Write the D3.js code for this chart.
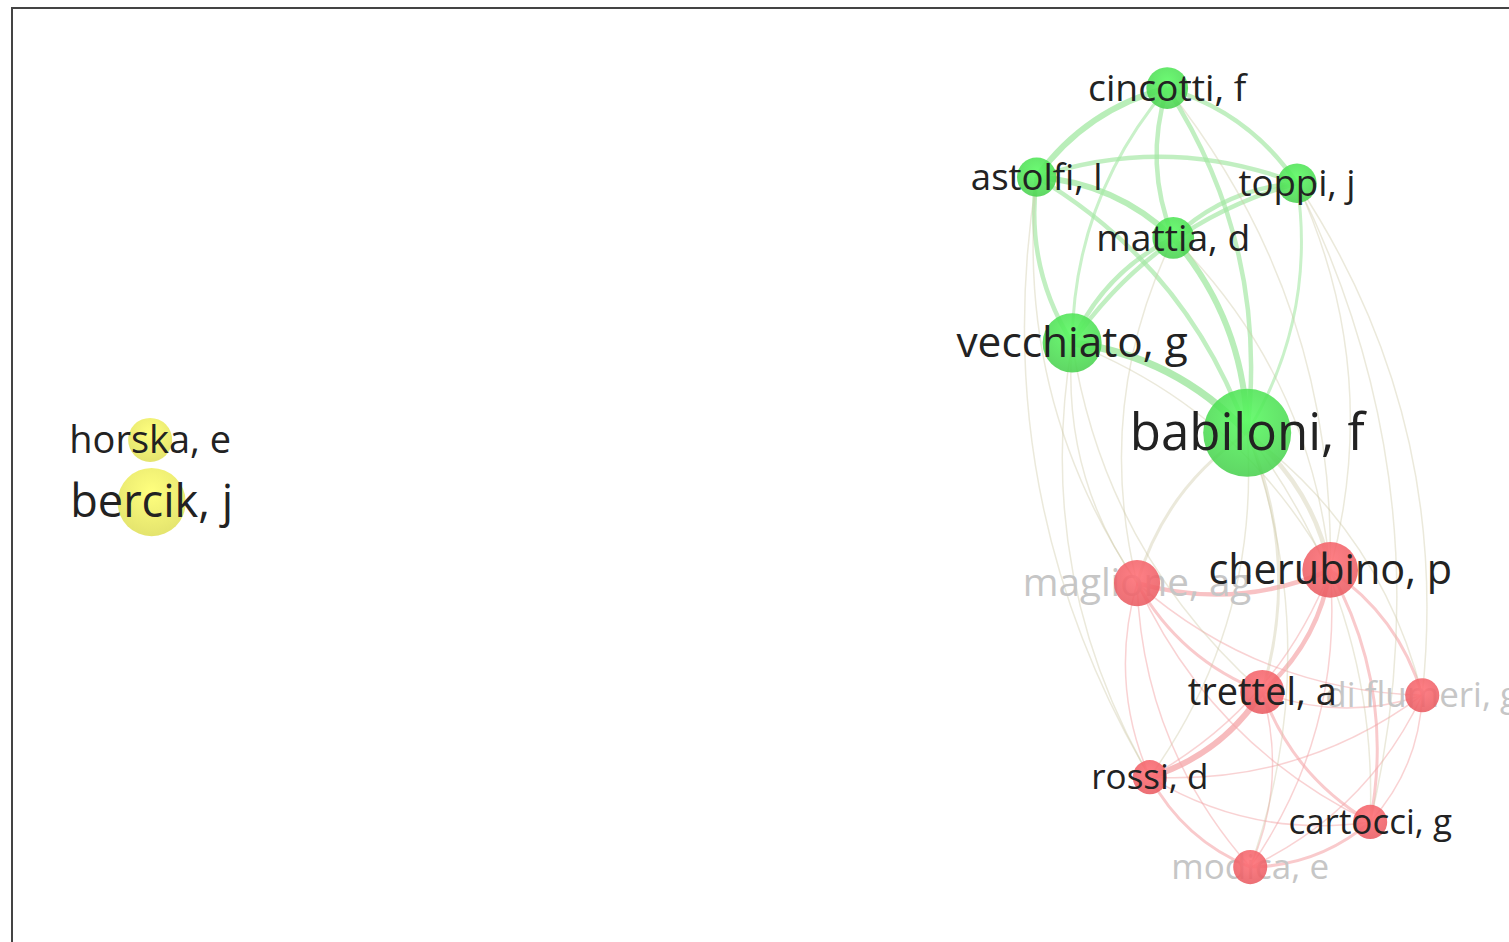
<!DOCTYPE html>
<meta charset="utf-8">
<script src="https://d3js.org/d3.v7.min.js"></script>
<style>
  body { margin: 0; background: #fff; }
  text { font-family: "Open Sans", sans-serif; }
</style>
<div id="my_dataviz"></div>
<script>
// layout of the map (normalised coordinates, -1..1)
var names   = ["cincotti, f", "astolfi, l", "toppi, j", "mattia, d", "vecchiato, g", "babiloni, f",
               "maglione, ag", "cherubino, p", "trettel, a", "di flumeri, g", "rossi, d", "cartocci, g", "modica, e",
               "horska, e", "bercik, j"];
var layoutX = [0.547, 0.374, 0.719, 0.555, 0.421, 0.653,
               0.507, 0.763, 0.673, 0.885, 0.524, 0.816, 0.657,
               -0.801, -0.799];
var layoutY = [-0.813, -0.624, -0.611, -0.495, -0.272, -0.081,
               0.238, 0.210, 0.469, 0.476, 0.650, 0.745, 0.841,
               -0.066, 0.066];
var weights = [4.5, 4, 4, 4.5, 9, 20,
               5.5, 8, 5, 3, 3, 3, 3,
               5, 12];
var clusters = [2, 2, 2, 2, 2, 2,
                1, 1, 1, 1, 1, 1, 1,
                3, 3];
var faded = ["maglione, ag", "di flumeri, g", "modica, e"];

// co-authorship links: [source, target, strength]
var links = [
  ["cincotti, f", "astolfi, l", 4], ["cincotti, f", "mattia, d", 3], ["cincotti, f", "toppi, j", 3],
  ["cincotti, f", "vecchiato, g", 2], ["cincotti, f", "babiloni, f", 3], ["astolfi, l", "mattia, d", 4],
  ["astolfi, l", "toppi, j", 3], ["astolfi, l", "vecchiato, g", 3], ["astolfi, l", "babiloni, f", 3],
  ["toppi, j", "mattia, d", 3], ["toppi, j", "vecchiato, g", 3], ["toppi, j", "babiloni, f", 2],
  ["mattia, d", "vecchiato, g", 3], ["mattia, d", "babiloni, f", 4], ["vecchiato, g", "babiloni, f", 5],
  ["maglione, ag", "cherubino, p", 3], ["maglione, ag", "trettel, a", 2], ["maglione, ag", "rossi, d", 1],
  ["maglione, ag", "modica, e", 1], ["maglione, ag", "cartocci, g", 1], ["maglione, ag", "di flumeri, g", 1],
  ["cherubino, p", "trettel, a", 3], ["cherubino, p", "di flumeri, g", 2], ["cherubino, p", "cartocci, g", 2],
  ["cherubino, p", "rossi, d", 1], ["cherubino, p", "modica, e", 1], ["trettel, a", "rossi, d", 4],
  ["trettel, a", "di flumeri, g", 1], ["trettel, a", "cartocci, g", 2], ["trettel, a", "modica, e", 1],
  ["di flumeri, g", "rossi, d", 1], ["di flumeri, g", "cartocci, g", 1], ["di flumeri, g", "modica, e", 1],
  ["rossi, d", "cartocci, g", 1], ["rossi, d", "modica, e", 2], ["cartocci, g", "modica, e", 2],
  ["babiloni, f", "maglione, ag", 2], ["babiloni, f", "cherubino, p", 3], ["babiloni, f", "trettel, a", 2],
  ["babiloni, f", "cartocci, g", 1], ["babiloni, f", "di flumeri, g", 1], ["babiloni, f", "modica, e", 1],
  ["babiloni, f", "rossi, d", 1], ["vecchiato, g", "maglione, ag", 1], ["vecchiato, g", "cherubino, p", 1],
  ["vecchiato, g", "trettel, a", 1], ["astolfi, l", "maglione, ag", 1], ["toppi, j", "cherubino, p", 1],
  ["toppi, j", "di flumeri, g", 1], ["cincotti, f", "cherubino, p", 1], ["mattia, d", "cherubino, p", 1],
  ["mattia, d", "maglione, ag", 1], ["astolfi, l", "rossi, d", 1], ["vecchiato, g", "rossi, d", 1],
  ["toppi, j", "cartocci, g", 1]
];

var width = 1509, height = 942;

var svg = d3.select("#my_dataviz")
  .append("svg")
    .attr("width", width)
    .attr("height", height);

// frame
svg.append("rect")
  .attr("x", 12).attr("y", 8)
  .attr("width", width + 10).attr("height", height + 10)
  .style("fill", "none").style("stroke", "#444").style("stroke-width", 2);

var x = d3.scaleLinear().domain([-1, 1]).range([0, width]);
var y = d3.scaleLinear().domain([-1, 1]).range([0, height]);
var r = d3.scaleSqrt().domain([0, 20]).range([0, 44]);
var fs = d3.scaleSqrt().domain([3, 20]).range([35, 51]);
var lw = d3.scaleLinear().domain([1, 5]).range([1.5, 7.5]);
var lo = d3.scaleLinear().domain([1, 5]).range([0.5, 0.85]);

var color = d3.scaleOrdinal()
  .domain([1, 2, 3])
  .range(["#e95c62", "#4ad150", "#e0e05a"]);
var edgeColor = d3.scaleOrdinal()
  .domain([1, 2, 3])
  .range(["#f4a5a8", "#a3e8a3", "#e6e67a"]);

var nodes = names.map(function (n, i) {
  return {name: n, x: x(layoutX[i]), y: y(layoutY[i]), w: weights[i], c: clusters[i],
          faded: faded.indexOf(n) >= 0};
});
var byName = {};
nodes.forEach(function (d) { byName[d.name] = d; });

// centre of the main component, used to bend the links outward
var main = nodes.filter(function (d) { return d.c !== 3; });
var cx = d3.mean(main, function (d) { return d.x; });
var cy = d3.mean(main, function (d) { return d.y; });

function linkPath(d) {
  var a = byName[d[0]], b = byName[d[1]];
  var mx = (a.x + b.x) / 2, my = (a.y + b.y) / 2;
  var dx = b.x - a.x, dy = b.y - a.y, L = Math.sqrt(dx * dx + dy * dy);
  var nx = -dy / L, ny = dx / L;
  if ((mx - cx) * nx + (my - cy) * ny < 0) { nx = -nx; ny = -ny; }
  var k = 0.18 * L;
  return "M" + a.x + "," + a.y + "Q" + (mx + nx * k) + "," + (my + ny * k) + " " + b.x + "," + b.y;
}

// gradients for the nodes
var defs = svg.append("defs");
[1, 2, 3].forEach(function (c) {
  var g = defs.append("radialGradient").attr("id", "g" + c)
    .attr("cx", "50%").attr("cy", "35%").attr("r", "65%");
  g.append("stop").attr("offset", "0%").attr("stop-color", d3.color(color(c)).brighter(0.5));
  g.append("stop").attr("offset", "100%").attr("stop-color", color(c));
});

// links
svg.append("g")
  .selectAll("path")
  .data(links)
  .enter()
  .append("path")
    .attr("d", linkPath)
    .style("fill", "none")
    .style("stroke", function (d) {
      var ca = byName[d[0]].c, cb = byName[d[1]].c;
      return ca === cb ? edgeColor(ca) : d3.interpolateRgb(edgeColor(ca), edgeColor(cb))(0.5);
    })
    .style("stroke-width", function (d) { return lw(d[2]); })
    .style("opacity", function (d) {
      var ca = byName[d[0]].c, cb = byName[d[1]].c;
      return ca === cb ? lo(d[2]) : 0.4;
    });

// faded labels sit under the circles
svg.append("g")
  .selectAll("text")
  .data(nodes.filter(function (d) { return d.faded; }))
  .enter()
  .append("text")
    .attr("x", function (d) { return d.x; })
    .attr("y", function (d) { return d.y; })
    .attr("dy", "0.34em")
    .attr("text-anchor", "middle")
    .style("font-size", function (d) { return fs(d.w) + "px"; })
    .style("fill", "#c6c6c6")
    .text(function (d) { return d.name; });

// circles
svg.append("g")
  .selectAll("circle")
  .data(nodes)
  .enter()
  .append("circle")
    .attr("cx", function (d) { return d.x; })
    .attr("cy", function (d) { return d.y; })
    .attr("r", function (d) { return r(d.w); })
    .style("fill", function (d) { return "url(#g" + d.c + ")"; })
    .style("opacity", 0.88);

// labels
svg.append("g")
  .selectAll("text")
  .data(nodes.filter(function (d) { return !d.faded; }))
  .enter()
  .append("text")
    .attr("x", function (d) { return d.x; })
    .attr("y", function (d) { return d.y; })
    .attr("dy", "0.34em")
    .attr("text-anchor", "middle")
    .style("font-size", function (d) { return fs(d.w) + "px"; })
    .style("fill", "#222")
    .text(function (d) { return d.name; });
</script>
